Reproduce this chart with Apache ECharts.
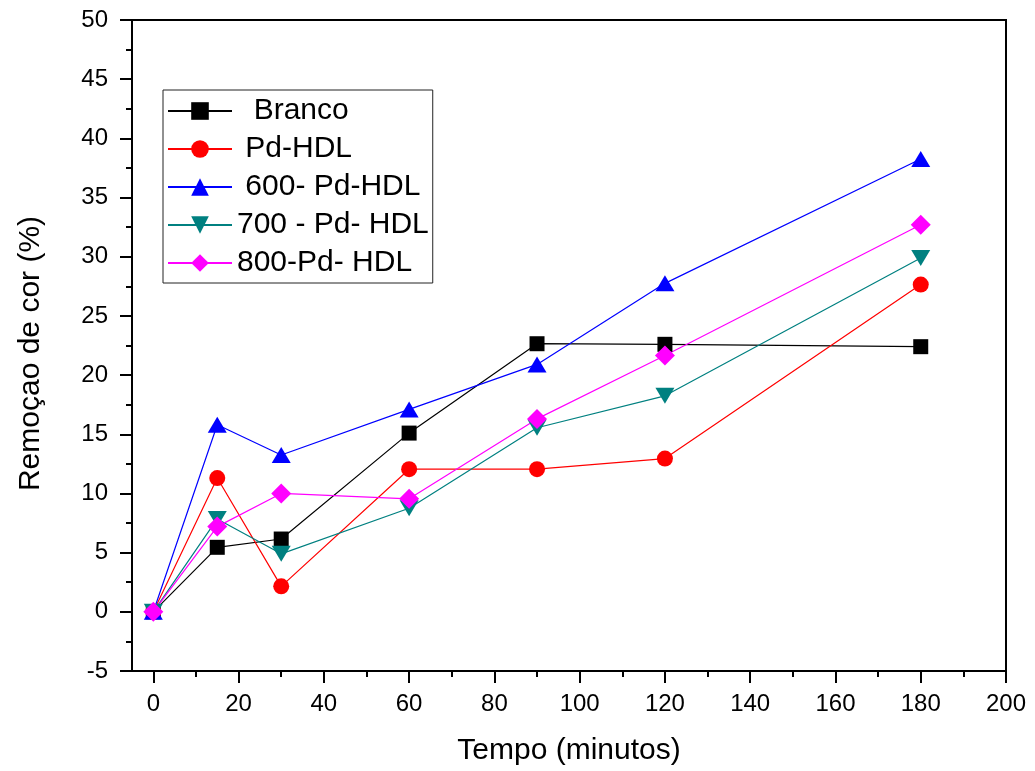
<!DOCTYPE html>
<html>
<head>
<meta charset="utf-8">
<script src="https://cdn.jsdelivr.net/npm/echarts@6/dist/echarts.min.js"></script>
<style>
  html, body { margin: 0; padding: 0; background: #fff; }
  #chart { width: 1035px; height: 771px; }
</style>
</head>
<body>
<div id="chart"></div>
<script>
// Sampling times (minutes)
const tempo = [0, 15, 30, 60, 90, 120, 180];

// Colour removal (%) for each material
const branco   = [0, 5.45, 6.15, 15.1, 22.65, 22.6, 22.4];
const pdHdl    = [0, 11.3, 2.15, 12.05, 12.05, 12.95, 27.65];
const pd600    = [0, 15.8, 13.25, 17.1, 20.9, 27.75, 38.25];
const pd700    = [0, 7.85, 4.9, 8.75, 15.55, 18.25, 29.9];
const pd800    = [0, 7.2, 10.0, 9.55, 16.3, 21.65, 32.7];

// Axis ticks
const xMajorTicks = [0, 20, 40, 60, 80, 100, 120, 140, 160, 180, 200];
const xMinorTicks = [10, 30, 50, 70, 90, 110, 130, 150, 170, 190];

const FONT = 'Liberation Sans, Arial, Helvetica, sans-serif';
const pairs = arr => tempo.map((t, i) => [t, arr[i]]);

const seriesDefs = [
  { name: '  Branco',      data: branco, color: '#000000', symbol: 'rect',     size: 15 },
  { name: ' Pd-HDL',       data: pdHdl,  color: '#ff0000', symbol: 'circle',   size: 16 },
  { name: ' 600- Pd-HDL',  data: pd600,  color: '#0000ff', symbol: 'triangle', size: [19, 16] },
  { name: '700 - Pd- HDL', data: pd700,  color: '#008080', symbol: 'triangle', size: [19, 16], rotate: 180 },
  { name: '800-Pd- HDL',   data: pd800,  color: '#ff00ff', symbol: 'diamond',  size: 20 }
];

const axisLineStyle = { color: '#000', width: 2 };

const chart = echarts.init(document.getElementById('chart'), null, { renderer: 'canvas' });
chart.setOption({
  animation: false,
  backgroundColor: '#fff',
  textStyle: { fontFamily: FONT },
  grid: {
    left: 132, right: 29, top: 20, bottom: 100,
    show: true, borderColor: '#000', borderWidth: 2, backgroundColor: 'transparent'
  },
  legend: {
    orient: 'vertical',
    left: 163, top: 90,
    padding: [6, 4, 5, 4],
    itemGap: 8,
    itemWidth: 64,
    itemHeight: 22,
    borderColor: '#222',
    borderWidth: 1,
    backgroundColor: '#fff',
    textStyle: { fontSize: 30, color: '#000', fontFamily: FONT },
    data: seriesDefs.map(s => s.name)
  },
  xAxis: [
    {
      type: 'value', min: -5, max: 200, position: 'bottom',
      name: 'Tempo (minutos)', nameLocation: 'middle', nameGap: 65,
      nameTextStyle: { fontSize: 30, color: '#000', fontFamily: FONT },
      axisLine: { show: true, onZero: false, lineStyle: axisLineStyle },
      axisTick: { show: true, inside: false, length: 12, customValues: xMajorTicks, lineStyle: axisLineStyle },
      axisLabel: { show: true, customValues: xMajorTicks, fontSize: 24, color: '#000', margin: 21, fontFamily: FONT },
      splitLine: { show: false }
    },
    {
      type: 'value', min: -5, max: 200, position: 'bottom',
      axisLine: { show: false, onZero: false },
      axisTick: { show: true, inside: false, length: 6, customValues: xMinorTicks, lineStyle: axisLineStyle },
      axisLabel: { show: false },
      splitLine: { show: false }
    }
  ],
  yAxis: {
    type: 'value', min: -5, max: 50, interval: 5,
    name: 'Remoçao de cor (%)', nameLocation: 'middle', nameGap: 86,
    nameTextStyle: { fontSize: 30, color: '#000', fontFamily: FONT, padding: [0, 16, 0, 0] },
    axisLine: { show: true, onZero: false, lineStyle: axisLineStyle },
    axisTick: { show: true, inside: false, length: 12, lineStyle: axisLineStyle },
    minorTick: { show: true, splitNumber: 2, length: 6, lineStyle: axisLineStyle },
    axisLabel: { fontSize: 24, color: '#000', margin: 24, fontFamily: FONT },
    splitLine: { show: false },
    minorSplitLine: { show: false }
  },
  series: seriesDefs.map(s => ({
    name: s.name,
    type: 'line',
    xAxisIndex: 0,
    data: pairs(s.data),
    symbol: s.symbol,
    symbolSize: s.size,
    symbolRotate: s.rotate || 0,
    showAllSymbol: true,
    lineStyle: { color: s.color, width: 1.2 },
    itemStyle: { color: s.color },
    emphasis: { disabled: true }
  }))
});
</script>
</body>
</html>
